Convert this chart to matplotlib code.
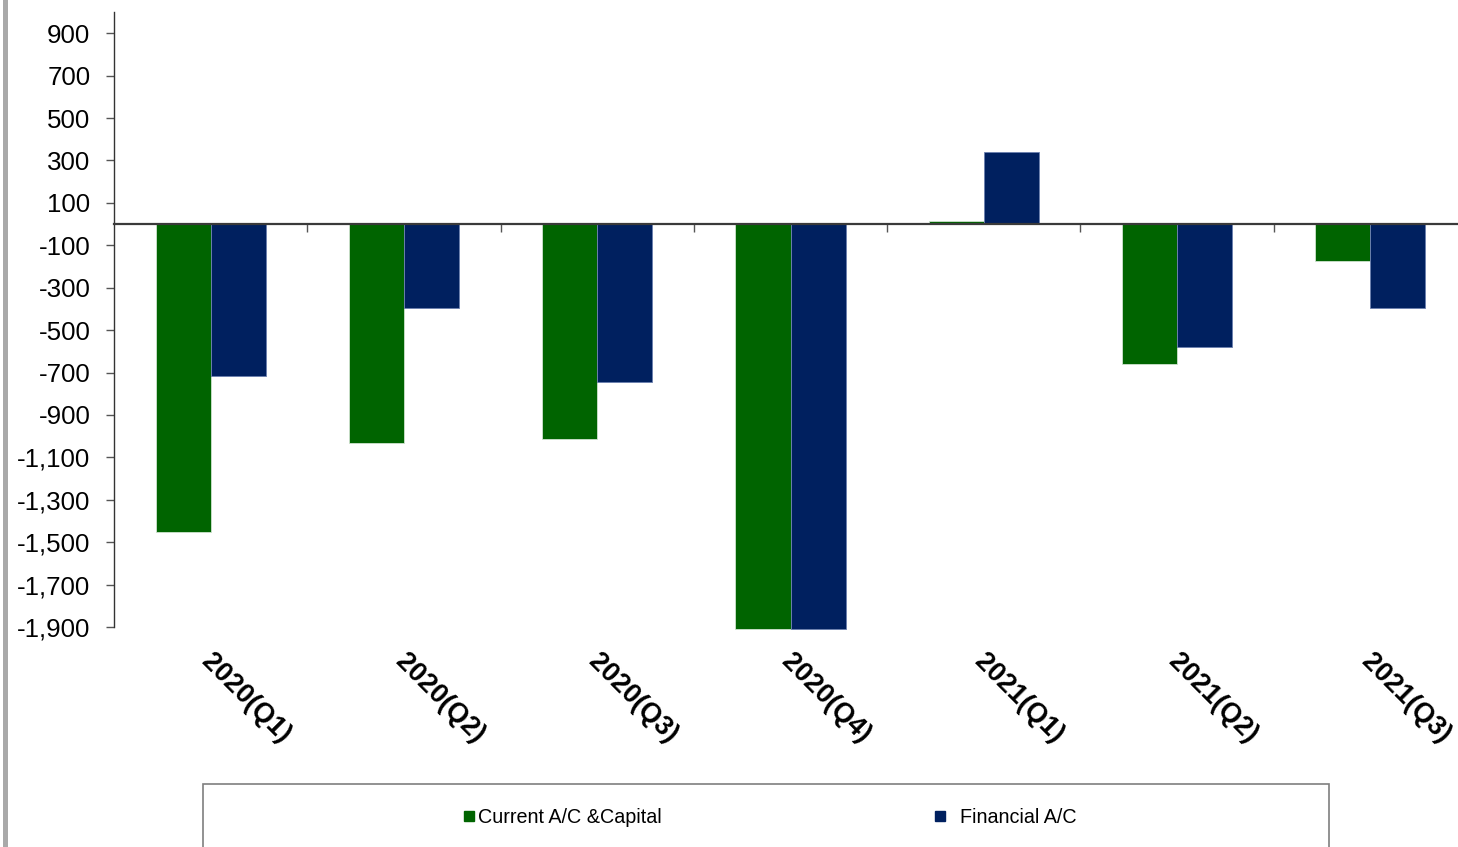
import matplotlib
matplotlib.use("Agg")
import matplotlib.pyplot as plt
from matplotlib.patches import Rectangle
from matplotlib.lines import Line2D
from matplotlib.ticker import FuncFormatter
import matplotlib.transforms as mtransforms
import numpy as np

categories = ["2020(Q1)", "2020(Q2)", "2020(Q3)", "2020(Q4)", "2021(Q1)", "2021(Q2)", "2021(Q3)"]
current_capital = [-1450, -1030, -1015, -1910, 16, -660, -174]
financial = [-715, -396, -745, -1910, 340, -578, -398]
series_names = ["Current A/C &Capital", "  Financial A/C"]
yticks = list(range(-1900, 901, 200))

GREEN = "#006400"
BLUE = "#00205f"

plt.rcParams["font.family"] = ["Liberation Sans", "DejaVu Sans"]

W, H = 1458, 847
fig = plt.figure(figsize=(W / 100, H / 100), dpi=100)

ax_left, ax_right, ax_top, ax_bottom = 114, 1467, 12, 627
ax = fig.add_axes([ax_left / W, 1 - ax_bottom / H, (ax_right - ax_left) / W, (ax_bottom - ax_top) / H])

x = np.arange(len(categories))
bw = 0.285
b1 = ax.bar(x - bw / 2, current_capital, bw, color=GREEN, edgecolor="#cfe3cf", linewidth=0.6, zorder=2)
b2 = ax.bar(x + bw / 2, financial, bw, color=BLUE, edgecolor="#6a7fae", linewidth=0.6, zorder=2)
for b in list(b1) + list(b2):
    b.set_clip_on(False)

ax.set_xlim(-0.5, len(categories) - 0.5)
ax.set_ylim(-1900, 1000)

for s in ["top", "right"]:
    ax.spines[s].set_visible(False)
ax.spines["left"].set_color("#333333")
ax.spines["left"].set_linewidth(1.0)
ax.spines["bottom"].set_position(("data", 0))
ax.spines["bottom"].set_color("#3a3a3a")
ax.spines["bottom"].set_linewidth(1.6)
ax.spines["bottom"].set_zorder(3)

ax.set_yticks(yticks)
ax.yaxis.set_major_formatter(FuncFormatter(lambda v, p: f"{int(v):,}"))
ax.tick_params(axis="y", direction="out", length=6, width=1, color="#555555",
               labelsize=18.6, pad=11, labelcolor="black")

bounds = np.arange(0.5, len(categories) - 0.5, 1.0)
ax.set_xticks(bounds)
ax.set_xticklabels([""] * len(bounds))
ax.tick_params(axis="x", direction="out", length=6, width=1, color="#555555")

off = mtransforms.ScaledTranslation(4 / 100, -22 / 100, fig.dpi_scale_trans)
trans = ax.get_xaxis_transform() + off
for i, lab in enumerate(categories):
    ax.text(i, 0, lab, transform=trans, rotation=-45, rotation_mode="anchor",
            ha="left", va="top", fontsize=19.5, fontweight="bold", color="black")

# left frame strip
fig.patches.append(Rectangle((3 / W, 0), 5 / W, 1, transform=fig.transFigure,
                             facecolor="#a9a9a9", edgecolor="none"))

# legend frame
fig.patches.append(Rectangle((203 / W, -0.05), (1329 - 203) / W, 0.05 + (1 - 784 / H),
                             transform=fig.transFigure, facecolor="white",
                             edgecolor="#7f7f7f", linewidth=1.2))

handles = [Line2D([], [], marker="s", linestyle="none", markersize=6.5, color=GREEN),
           Line2D([], [], marker="s", linestyle="none", markersize=6.5, color=BLUE)]
fig.legend(handles, series_names, loc="center", bbox_to_anchor=(770 / W, 1 - 817 / H),
           ncol=2, frameon=False, fontsize=14.2, handlelength=0.6, handletextpad=0.15,
           columnspacing=13.8)

fig.savefig("out.png", dpi=100)
